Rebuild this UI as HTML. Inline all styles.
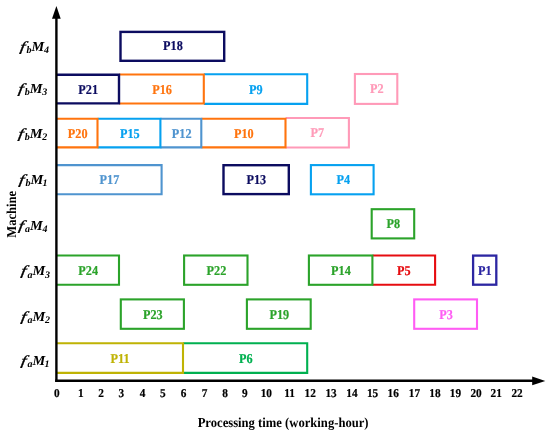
<!DOCTYPE html>
<html><head><meta charset="utf-8"><title>Gantt chart</title>
<style>
html,body{margin:0;padding:0;background:#fff}
svg{display:block}
text{text-rendering:geometricPrecision;font-family:"Liberation Serif","Times New Roman",serif;font-weight:bold}
.b{font-size:13.5px;text-anchor:middle;stroke-width:0.2px}
.t{font-size:12px;text-anchor:middle;fill:#000}
.m{font-size:13.8px;font-style:italic;fill:#000}
.s{font-size:10px}
</style></head><body>
<svg width="550" height="435" viewBox="0 0 550 435">
<rect width="550" height="435" fill="#fff"/>
<rect x="120.5" y="31.9" width="103.7" height="28.9" fill="none" stroke="#0c0c60" stroke-width="2.4"/>
<path d="M203.8 74.3H307.2V103.9H203.8" fill="none" stroke="#06a1f0" stroke-width="2.1"/>
<path d="M119.2 74.5H203.8V103.5H119.2" fill="none" stroke="#ff740e" stroke-width="2.1"/>
<path d="M56.6 74.7H119.0V103.4H56.6" fill="none" stroke="#0c0c60" stroke-width="2.4"/>
<rect x="354.9" y="74.0" width="42.4" height="29.9" fill="none" stroke="#ff9ab8" stroke-width="2.1"/>
<path d="M285.6 118.0H348.9V147.5H285.6" fill="none" stroke="#ff9ab8" stroke-width="2.1"/>
<path d="M201.5 118.8H285.5V147.4H201.5" fill="none" stroke="#ff740e" stroke-width="2.1"/>
<path d="M160.5 118.8H201.3V147.4H160.5" fill="none" stroke="#4f94cf" stroke-width="2.1"/>
<path d="M97.6 118.8H160.4V147.4H97.6" fill="none" stroke="#06a1f0" stroke-width="2.1"/>
<path d="M56.4 118.8H97.5V147.4H56.4" fill="none" stroke="#ff740e" stroke-width="2.1"/>
<path d="M56.4 165.1H161.6V194.3H56.4" fill="none" stroke="#4f94cf" stroke-width="2.1"/>
<rect x="223.5" y="165.2" width="65.3" height="28.9" fill="none" stroke="#0c0c60" stroke-width="2.4"/>
<rect x="310.9" y="165.1" width="62.7" height="29.2" fill="none" stroke="#06a1f0" stroke-width="2.1"/>
<rect x="371.7" y="209.2" width="42.5" height="29.2" fill="none" stroke="#2ba32a" stroke-width="2.1"/>
<path d="M56.4 255.5H119.0V284.8H56.4" fill="none" stroke="#2ba32a" stroke-width="2.1"/>
<rect x="184.1" y="255.5" width="63.4" height="29.3" fill="none" stroke="#2ba32a" stroke-width="2.1"/>
<path d="M372.6 255.5H435.1V284.8H372.6" fill="none" stroke="#e60c10" stroke-width="2.1"/>
<rect x="308.9" y="255.5" width="63.5" height="29.3" fill="none" stroke="#2ba32a" stroke-width="2.1"/>
<rect x="473.1" y="255.6" width="23.2" height="29.1" fill="none" stroke="#2c26a2" stroke-width="2.3"/>
<rect x="120.8" y="299.4" width="63.1" height="29.4" fill="none" stroke="#2ba32a" stroke-width="2.1"/>
<rect x="246.9" y="299.4" width="63.8" height="29.4" fill="none" stroke="#2ba32a" stroke-width="2.1"/>
<rect x="414.2" y="299.4" width="62.8" height="29.4" fill="none" stroke="#ff5cf4" stroke-width="2.1"/>
<path d="M183.1 343.2H307.2V372.9H183.1" fill="none" stroke="#00b050" stroke-width="2.1"/>
<path d="M56.4 343.2H183.0V372.9H56.4" fill="none" stroke="#bfb304" stroke-width="2.1"/>
<text class="b" transform="translate(172.9,50.4) scale(0.905,1)" fill="#0c0c60" stroke="#0c0c60">P18</text>
<text class="b" transform="translate(255.9,93.6) scale(0.905,1)" fill="#06a1f0" stroke="#06a1f0">P9</text>
<text class="b" transform="translate(162.1,93.5) scale(0.905,1)" fill="#ff740e" stroke="#ff740e">P16</text>
<text class="b" transform="translate(88.2,93.5) scale(0.905,1)" fill="#0c0c60" stroke="#0c0c60">P21</text>
<text class="b" transform="translate(376.7,93.3) scale(0.905,1)" fill="#ff9ab8" stroke="#ff9ab8">P2</text>
<text class="b" transform="translate(317.4,137.2) scale(0.905,1)" fill="#ff9ab8" stroke="#ff9ab8">P7</text>
<text class="b" transform="translate(243.8,137.5) scale(0.905,1)" fill="#ff740e" stroke="#ff740e">P10</text>
<text class="b" transform="translate(181.7,137.5) scale(0.905,1)" fill="#4f94cf" stroke="#4f94cf">P12</text>
<text class="b" transform="translate(129.8,137.5) scale(0.905,1)" fill="#06a1f0" stroke="#06a1f0">P15</text>
<text class="b" transform="translate(77.7,137.5) scale(0.905,1)" fill="#ff740e" stroke="#ff740e">P20</text>
<text class="b" transform="translate(109.4,184.1) scale(0.905,1)" fill="#4f94cf" stroke="#4f94cf">P17</text>
<text class="b" transform="translate(256.3,184.1) scale(0.905,1)" fill="#0c0c60" stroke="#0c0c60">P13</text>
<text class="b" transform="translate(343.3,184.1) scale(0.905,1)" fill="#06a1f0" stroke="#06a1f0">P4</text>
<text class="b" transform="translate(393.3,228.2) scale(0.905,1)" fill="#2ba32a" stroke="#2ba32a">P8</text>
<text class="b" transform="translate(88.2,274.5) scale(0.905,1)" fill="#2ba32a" stroke="#2ba32a">P24</text>
<text class="b" transform="translate(216.4,274.5) scale(0.905,1)" fill="#2ba32a" stroke="#2ba32a">P22</text>
<text class="b" transform="translate(403.9,274.5) scale(0.905,1)" fill="#e60c10" stroke="#e60c10">P5</text>
<text class="b" transform="translate(340.9,274.5) scale(0.905,1)" fill="#2ba32a" stroke="#2ba32a">P14</text>
<text class="b" transform="translate(484.9,274.5) scale(0.905,1)" fill="#2c26a2" stroke="#2c26a2">P1</text>
<text class="b" transform="translate(152.8,318.5) scale(0.905,1)" fill="#2ba32a" stroke="#2ba32a">P23</text>
<text class="b" transform="translate(279.3,318.5) scale(0.905,1)" fill="#2ba32a" stroke="#2ba32a">P19</text>
<text class="b" transform="translate(446.0,318.5) scale(0.905,1)" fill="#ff5cf4" stroke="#ff5cf4">P3</text>
<text class="b" transform="translate(245.7,362.5) scale(0.905,1)" fill="#00b050" stroke="#00b050">P6</text>
<text class="b" transform="translate(120.0,362.5) scale(0.905,1)" fill="#bfb304" stroke="#bfb304">P11</text>
<line x1="56.4" y1="18" x2="56.4" y2="382" stroke="#000" stroke-width="2.4"/>
<line x1="55.2" y1="380.8" x2="533" y2="380.8" stroke="#000" stroke-width="2.4"/>
<polygon points="56.4,5.9 60.7,18.8 52,18.8" fill="#000"/>
<polygon points="545.3,380.9 532.2,376.5 532.2,385.2" fill="#000"/>
<text class="t" transform="translate(56.8,396.9) scale(0.94,1)" stroke="#000" stroke-width="0.2">0</text>
<text class="t" transform="translate(80.7,396.9) scale(0.94,1)" stroke="#000" stroke-width="0.2">1</text>
<text class="t" transform="translate(101.0,396.9) scale(0.94,1)" stroke="#000" stroke-width="0.2">2</text>
<text class="t" transform="translate(121.2,396.9) scale(0.94,1)" stroke="#000" stroke-width="0.2">3</text>
<text class="t" transform="translate(142.5,396.9) scale(0.94,1)" stroke="#000" stroke-width="0.2">4</text>
<text class="t" transform="translate(162.8,396.9) scale(0.94,1)" stroke="#000" stroke-width="0.2">5</text>
<text class="t" transform="translate(183.6,396.9) scale(0.94,1)" stroke="#000" stroke-width="0.2">6</text>
<text class="t" transform="translate(204.5,396.9) scale(0.94,1)" stroke="#000" stroke-width="0.2">7</text>
<text class="t" transform="translate(225.1,396.9) scale(0.94,1)" stroke="#000" stroke-width="0.2">8</text>
<text class="t" transform="translate(244.9,396.9) scale(0.94,1)" stroke="#000" stroke-width="0.2">9</text>
<text class="t" transform="translate(266.3,396.9) scale(0.94,1)" stroke="#000" stroke-width="0.2">10</text>
<text class="t" transform="translate(289.5,396.9) scale(0.94,1)" stroke="#000" stroke-width="0.2">11</text>
<text class="t" transform="translate(310.2,396.9) scale(0.94,1)" stroke="#000" stroke-width="0.2">12</text>
<text class="t" transform="translate(331.1,396.9) scale(0.94,1)" stroke="#000" stroke-width="0.2">13</text>
<text class="t" transform="translate(352.0,396.9) scale(0.94,1)" stroke="#000" stroke-width="0.2">14</text>
<text class="t" transform="translate(372.6,396.9) scale(0.94,1)" stroke="#000" stroke-width="0.2">15</text>
<text class="t" transform="translate(393.2,396.9) scale(0.94,1)" stroke="#000" stroke-width="0.2">16</text>
<text class="t" transform="translate(414.5,396.9) scale(0.94,1)" stroke="#000" stroke-width="0.2">17</text>
<text class="t" transform="translate(434.9,396.9) scale(0.94,1)" stroke="#000" stroke-width="0.2">18</text>
<text class="t" transform="translate(455.5,396.9) scale(0.94,1)" stroke="#000" stroke-width="0.2">19</text>
<text class="t" transform="translate(476.1,396.9) scale(0.94,1)" stroke="#000" stroke-width="0.2">20</text>
<text class="t" transform="translate(496.2,396.9) scale(0.94,1)" stroke="#000" stroke-width="0.2">21</text>
<text class="t" transform="translate(517.1,396.9) scale(0.94,1)" stroke="#000" stroke-width="0.2">22</text>
<text transform="translate(283.1,427.2) scale(0.929,1)" text-anchor="middle" font-size="13.6px" fill="#000">Processing time (working-hour)</text>
<text transform="translate(15.8,214.3) rotate(-90) scale(0.925,1)" text-anchor="middle" font-size="13.6px" fill="#000">Machine</text>
<g class="m" transform="translate(19.1,50.7)"><text transform="translate(0.4,0) skewX(-8) scale(1.4,1)" style="font-weight:normal" stroke="#000" stroke-width="0.3">f</text><text class="s" x="7.4" y="2.3">b</text><text transform="translate(12.5,0) scale(1.04,1)">M</text><text class="s" x="24.9" y="2.4">4</text></g>
<g class="m" transform="translate(17.3,92.8)"><text transform="translate(0.4,0) skewX(-8) scale(1.4,1)" style="font-weight:normal" stroke="#000" stroke-width="0.3">f</text><text class="s" x="7.4" y="2.3">b</text><text transform="translate(12.5,0) scale(1.04,1)">M</text><text class="s" x="24.9" y="2.4">3</text></g>
<g class="m" transform="translate(17.3,137.9)"><text transform="translate(0.4,0) skewX(-8) scale(1.4,1)" style="font-weight:normal" stroke="#000" stroke-width="0.3">f</text><text class="s" x="7.4" y="2.3">b</text><text transform="translate(12.5,0) scale(1.04,1)">M</text><text class="s" x="24.9" y="2.4">2</text></g>
<g class="m" transform="translate(18.0,183.6)"><text transform="translate(0.4,0) skewX(-8) scale(1.4,1)" style="font-weight:normal" stroke="#000" stroke-width="0.3">f</text><text class="s" x="7.4" y="2.3">b</text><text transform="translate(12.5,0) scale(1.04,1)">M</text><text class="s" x="24.6" y="2.4">1</text></g>
<g class="m" transform="translate(17.5,229.8)"><text transform="translate(0.4,0) skewX(-8) scale(1.4,1)" style="font-weight:normal" stroke="#000" stroke-width="0.3">f</text><text class="s" x="7.4" y="2.3">a</text><text transform="translate(12.5,0) scale(1.04,1)">M</text><text class="s" x="24.9" y="2.4">4</text></g>
<g class="m" transform="translate(20.0,275.3)"><text transform="translate(0.4,0) skewX(-8) scale(1.4,1)" style="font-weight:normal" stroke="#000" stroke-width="0.3">f</text><text class="s" x="7.4" y="2.3">a</text><text transform="translate(12.5,0) scale(1.04,1)">M</text><text class="s" x="24.9" y="2.4">3</text></g>
<g class="m" transform="translate(20.0,320.5)"><text transform="translate(0.4,0) skewX(-8) scale(1.4,1)" style="font-weight:normal" stroke="#000" stroke-width="0.3">f</text><text class="s" x="7.4" y="2.3">a</text><text transform="translate(12.5,0) scale(1.04,1)">M</text><text class="s" x="24.9" y="2.4">2</text></g>
<g class="m" transform="translate(20.0,364.8)"><text transform="translate(0.4,0) skewX(-8) scale(1.4,1)" style="font-weight:normal" stroke="#000" stroke-width="0.3">f</text><text class="s" x="7.4" y="2.3">a</text><text transform="translate(12.5,0) scale(1.04,1)">M</text><text class="s" x="24.6" y="2.4">1</text></g>
</svg>
</body></html>
